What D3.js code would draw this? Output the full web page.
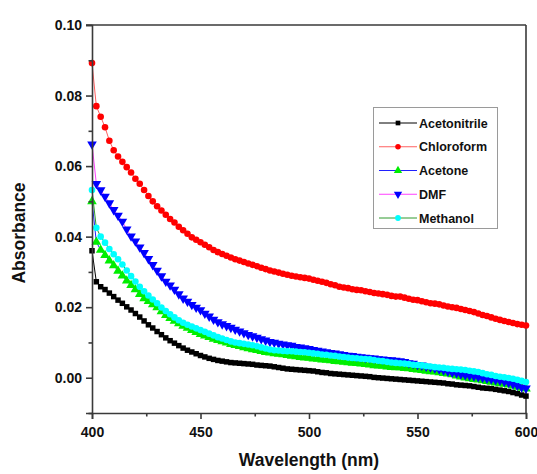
<!DOCTYPE html>
<html>
<head>
<meta charset="utf-8">
<script src="https://cdn.jsdelivr.net/npm/d3@7"></script>
<style>
  html, body { margin: 0; padding: 0; background: #fff; }
  svg { display: block; font-family: "Liberation Sans", Arial, sans-serif; }
</style>
</head>
<body>
<svg id="chart" width="537" height="474"></svg>
<script>
// wavelength sampling, nm (every 2 nm)
const wavelengths = d3.range(400, 601, 2);

const acetonitrile = [
  0.0360, 0.0272, 0.0258, 0.0250, 0.0240, 0.0230, 0.0220, 0.0211, 0.0201, 0.0192,
  0.0182, 0.0172, 0.0161, 0.0150, 0.0141, 0.0131, 0.0122, 0.0113, 0.0105, 0.0098,
  0.0091, 0.0084, 0.0078, 0.0073, 0.0068, 0.0063, 0.0059, 0.0055, 0.0052, 0.0049,
  0.0047, 0.0045, 0.0043, 0.0042, 0.0041, 0.0040, 0.0039, 0.0038, 0.0036, 0.0035,
  0.0034, 0.0033, 0.0031, 0.0029, 0.0027, 0.0025, 0.0024, 0.0023, 0.0022, 0.0021,
  0.0020, 0.0019, 0.0017, 0.0015, 0.0014, 0.0012, 0.0011, 0.0010, 0.0009, 0.0008,
  0.0007, 0.0006, 0.0005, 0.0004, 0.0003, 0.0001, 0.0000, -0.0001, -0.0002, -0.0003,
  -0.0004, -0.0005, -0.0006, -0.0007, -0.0008, -0.0009, -0.0010, -0.0011, -0.0012, -0.0013,
  -0.0014, -0.0015, -0.0017, -0.0018, -0.0020, -0.0021, -0.0022, -0.0023, -0.0025, -0.0027,
  -0.0029, -0.0030, -0.0031, -0.0033, -0.0035, -0.0037, -0.0039, -0.0042, -0.0045, -0.0049,
  -0.0052
];

const chloroform = [
  0.0892, 0.0770, 0.0740, 0.0710, 0.0672, 0.0645, 0.0627, 0.0612, 0.0597, 0.0582,
  0.0564, 0.0550, 0.0532, 0.0515, 0.0500, 0.0486, 0.0474, 0.0462, 0.0450, 0.0440,
  0.0428, 0.0418, 0.0408, 0.0398, 0.0391, 0.0384, 0.0377, 0.0370, 0.0362, 0.0356,
  0.0351, 0.0346, 0.0341, 0.0336, 0.0332, 0.0328, 0.0324, 0.0320, 0.0316, 0.0312,
  0.0308, 0.0304, 0.0301, 0.0298, 0.0295, 0.0292, 0.0289, 0.0287, 0.0285, 0.0283,
  0.0281, 0.0278, 0.0275, 0.0272, 0.0269, 0.0265, 0.0262, 0.0258, 0.0256, 0.0254,
  0.0251, 0.0249, 0.0248, 0.0245, 0.0243, 0.0240, 0.0239, 0.0237, 0.0235, 0.0232,
  0.0230, 0.0230, 0.0227, 0.0224, 0.0221, 0.0220, 0.0217, 0.0214, 0.0211, 0.0210,
  0.0208, 0.0205, 0.0202, 0.0200, 0.0198, 0.0195, 0.0192, 0.0189, 0.0186, 0.0182,
  0.0178, 0.0175, 0.0171, 0.0167, 0.0164, 0.0161, 0.0158, 0.0155, 0.0152, 0.0150,
  0.0148
];

const acetone = [
  0.0500, 0.0385, 0.0362, 0.0347, 0.0332, 0.0318, 0.0303, 0.0289, 0.0275, 0.0262,
  0.0250, 0.0237, 0.0225, 0.0217, 0.0208, 0.0199, 0.0188, 0.0177, 0.0169, 0.0161,
  0.0154, 0.0147, 0.0141, 0.0135, 0.0129, 0.0123, 0.0119, 0.0115, 0.0110, 0.0106,
  0.0103, 0.0099, 0.0095, 0.0092, 0.0089, 0.0086, 0.0083, 0.0080, 0.0078, 0.0075,
  0.0072, 0.0071, 0.0069, 0.0067, 0.0066, 0.0064, 0.0062, 0.0060, 0.0058, 0.0057,
  0.0056, 0.0054, 0.0053, 0.0051, 0.0050, 0.0049, 0.0047, 0.0046, 0.0045, 0.0043,
  0.0042, 0.0041, 0.0040, 0.0038, 0.0037, 0.0035, 0.0034, 0.0033, 0.0031, 0.0030,
  0.0029, 0.0029, 0.0027, 0.0026, 0.0024, 0.0023, 0.0021, 0.0019, 0.0018, 0.0017,
  0.0015, 0.0013, 0.0011, 0.0009, 0.0006, 0.0003, 0.0000, -0.0002, -0.0004, -0.0006,
  -0.0008, -0.0010, -0.0012, -0.0014, -0.0016, -0.0018, -0.0020, -0.0023, -0.0026, -0.0029,
  -0.0031
];

const dmf = [
  0.0662, 0.0550, 0.0532, 0.0514, 0.0495, 0.0476, 0.0460, 0.0443, 0.0421, 0.0401,
  0.0387, 0.0370, 0.0354, 0.0337, 0.0320, 0.0304, 0.0288, 0.0273, 0.0262, 0.0250,
  0.0237, 0.0225, 0.0216, 0.0207, 0.0199, 0.0192, 0.0182, 0.0174, 0.0165, 0.0158,
  0.0152, 0.0147, 0.0142, 0.0137, 0.0132, 0.0127, 0.0122, 0.0118, 0.0114, 0.0110,
  0.0106, 0.0102, 0.0100, 0.0097, 0.0095, 0.0093, 0.0091, 0.0088, 0.0086, 0.0084,
  0.0082, 0.0079, 0.0077, 0.0075, 0.0073, 0.0071, 0.0069, 0.0067, 0.0065, 0.0063,
  0.0062, 0.0060, 0.0059, 0.0057, 0.0056, 0.0055, 0.0053, 0.0052, 0.0051, 0.0050,
  0.0049, 0.0047, 0.0045, 0.0042, 0.0040, 0.0037, 0.0035, 0.0032, 0.0030, 0.0027,
  0.0024, 0.0021, 0.0018, 0.0015, 0.0013, 0.0010, 0.0008, 0.0006, 0.0004, 0.0002,
  0.0000, -0.0002, -0.0004, -0.0006, -0.0008, -0.0011, -0.0014, -0.0018, -0.0022, -0.0027,
  -0.0030
];

const methanol = [
  0.0532, 0.0425, 0.0400, 0.0383, 0.0365, 0.0350, 0.0336, 0.0321, 0.0304, 0.0288,
  0.0273, 0.0258, 0.0245, 0.0233, 0.0222, 0.0211, 0.0199, 0.0189, 0.0180, 0.0171,
  0.0163, 0.0156, 0.0150, 0.0145, 0.0140, 0.0135, 0.0130, 0.0125, 0.0120, 0.0115,
  0.0111, 0.0107, 0.0103, 0.0100, 0.0098, 0.0096, 0.0094, 0.0092, 0.0089, 0.0086,
  0.0083, 0.0080, 0.0078, 0.0077, 0.0076, 0.0075, 0.0075, 0.0074, 0.0073, 0.0072,
  0.0071, 0.0069, 0.0068, 0.0066, 0.0065, 0.0063, 0.0062, 0.0060, 0.0059, 0.0057,
  0.0056, 0.0055, 0.0054, 0.0053, 0.0052, 0.0050, 0.0048, 0.0047, 0.0045, 0.0043,
  0.0042, 0.0041, 0.0040, 0.0039, 0.0037, 0.0036, 0.0035, 0.0033, 0.0032, 0.0030,
  0.0029, 0.0028, 0.0026, 0.0025, 0.0024, 0.0023, 0.0022, 0.0020, 0.0018, 0.0016,
  0.0013, 0.0010, 0.0008, 0.0005, 0.0003, 0.0001, -0.0001, -0.0003, -0.0006, -0.0009,
  -0.0012
];

const seriesNames = ['Acetonitrile', 'Chloroform', 'Acetone', 'DMF', 'Methanol'];
const seriesValues = [acetonitrile, chloroform, acetone, dmf, methanol];

const xTicks = [400, 450, 500, 550, 600];
const yTicks = [0.00, 0.02, 0.04, 0.06, 0.08, 0.10];

// line colour, marker colour, marker shape (Origin-style defaults)
const style = {
  Acetonitrile: { line: '#000000', fill: '#000000', shape: d3.symbolSquare, size: 30, legendSize: 22 },
  Chloroform: { line: '#FF6060', fill: '#FF0000', shape: d3.symbolCircle, size: 34, legendSize: 24 },
  Acetone: { line: '#2020FF', fill: '#00EE00', shape: d3.symbolTriangle, size: 40, legendSize: 30 },
  DMF: { line: '#FF40FF', fill: '#0000FF', shape: d3.symbolTriangle, size: 40, legendSize: 30, flip: true },
  Methanol: { line: '#2E9A2E', fill: '#00FFFF', shape: d3.symbolCircle, size: 34, legendSize: 26 }
};

const svg = d3.select('#chart');
const mLeft = 92, mRight = 526, mTop = 25, mBottom = 413;

const x = d3.scaleLinear().domain([400, 600]).range([mLeft, mRight]);
const y = d3.scaleLinear().domain([-0.01, 0.10]).range([mBottom, mTop]);

const axisColor = '#3a3a3a';

// frame (top + right)
svg.append('line')
  .attr('x1', mLeft - 6).attr('x2', mRight).attr('y1', mTop).attr('y2', mTop)
  .attr('stroke', axisColor).attr('stroke-width', 1.6);
svg.append('line')
  .attr('x1', mRight).attr('x2', mRight).attr('y1', mTop).attr('y2', mBottom)
  .attr('stroke', axisColor).attr('stroke-width', 1.6);

// series
const plot = svg.append('g');
seriesNames.forEach((name, si) => {
  const st = style[name];
  const pts = wavelengths.map((w, i) => [w, seriesValues[si][i]]);
  const g = plot.append('g');
  g.append('path')
    .datum(pts)
    .attr('fill', 'none')
    .attr('stroke', st.line)
    .attr('stroke-width', 1)
    .attr('d', d3.line().x((d) => x(d[0])).y((d) => y(d[1])));
  const sym = d3.symbol().type(st.shape).size(st.size);
  g.selectAll('path.m')
    .data(pts)
    .join('path')
    .attr('class', 'm')
    .attr('d', sym)
    .attr('fill', st.fill)
    .attr('transform', (d) => `translate(${x(d[0])},${y(d[1])})${st.flip ? ' rotate(180)' : ''}`);
});

// axes
const xAxis = svg.append('g').attr('transform', `translate(0,${mBottom})`)
  .call(d3.axisBottom(x).tickValues(xTicks).tickSize(6).tickPadding(8).tickFormat(d3.format('d')));
const xMinor = svg.append('g').attr('transform', `translate(0,${mBottom})`)
  .call(d3.axisBottom(x).tickValues([425, 475, 525, 575]).tickSize(3.5).tickFormat(''));
const yAxis = svg.append('g').attr('transform', `translate(${mLeft},0)`)
  .call(d3.axisLeft(y).tickValues(yTicks).tickSize(6).tickPadding(4).tickFormat(d3.format('.2f')));
const yMinor = svg.append('g').attr('transform', `translate(${mLeft},0)`)
  .call(d3.axisLeft(y).tickValues([-0.01, 0.01, 0.03, 0.05, 0.07, 0.09]).tickSize(3.5).tickFormat(''));

[xAxis, xMinor, yAxis, yMinor].forEach((a) => {
  a.select('.domain').attr('stroke', axisColor).attr('stroke-width', 1.6);
  a.selectAll('.tick line').attr('stroke', axisColor).attr('stroke-width', 1.6);
  a.selectAll('.tick text')
    .attr('fill', '#111')
    .attr('font-size', 14)
    .attr('font-weight', 'bold')
    .attr('font-family', '"Liberation Sans", Arial, sans-serif');
});
xMinor.select('.domain').remove();
yMinor.select('.domain').remove();

// axis titles
svg.append('text')
  .attr('x', (mLeft + mRight) / 2)
  .attr('y', 466)
  .attr('text-anchor', 'middle')
  .attr('font-size', 17.5)
  .attr('font-weight', 'bold')
  .attr('fill', '#111')
  .text('Wavelength (nm)');

svg.append('text')
  .attr('transform', 'translate(25,233) rotate(-90)')
  .attr('text-anchor', 'middle')
  .attr('font-size', 17.5)
  .attr('font-weight', 'bold')
  .attr('fill', '#111')
  .text('Absorbance');

// legend
const legend = svg.append('g');
legend.append('rect')
  .attr('x', 373.5).attr('y', 107.5)
  .attr('width', 124).attr('height', 121)
  .attr('fill', '#fff')
  .attr('stroke', '#9a9a9a')
  .attr('stroke-width', 1);

const legendY = d3.scalePoint().domain(seriesNames).range([123, 218]);
seriesNames.forEach((name) => {
  const st = style[name];
  const ly = legendY(name);
  legend.append('line')
    .attr('x1', 379).attr('x2', 417).attr('y1', ly).attr('y2', ly)
    .attr('stroke', st.line).attr('stroke-width', 1);
  legend.append('path')
    .attr('d', d3.symbol().type(st.shape).size(st.legendSize)())
    .attr('fill', st.fill)
    .attr('transform', `translate(398,${ly})${st.flip ? ' rotate(180)' : ''}`);
  legend.append('text')
    .attr('x', 419)
    .attr('y', ly + 4.5)
    .attr('font-size', 12.5)
    .attr('font-weight', 'bold')
    .attr('fill', '#111')
    .text(name);
});
</script>
</body>
</html>
